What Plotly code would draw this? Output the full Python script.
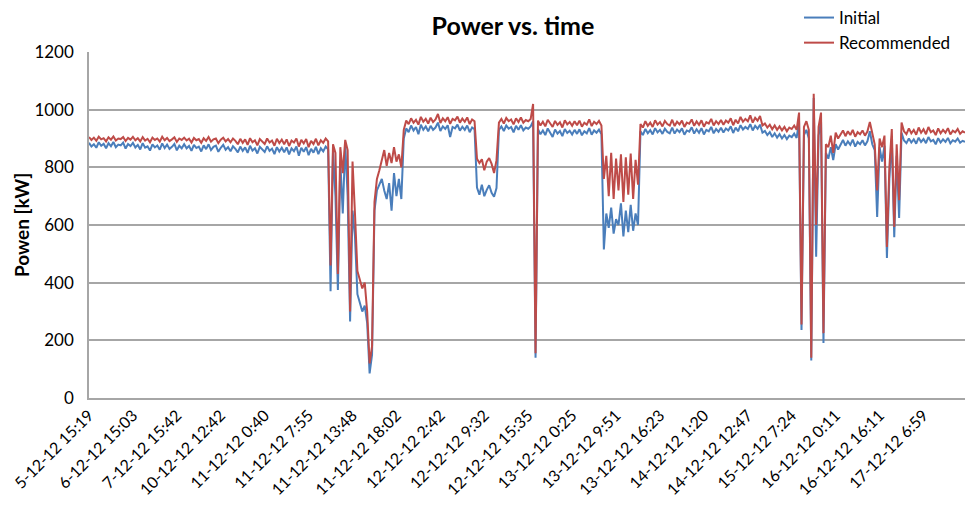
import plotly.graph_objects as go

# tick labels (one every 18 samples)
TIME_LABELS = ['5-12-12 15:19', '6-12-12 15:03', '7-12-12 15:42', '10-12-12 12:42', '11-12-12 0:40',
               '11-12-12 7:55', '11-12-12 13:48', '11-12-12 18:02', '12-12-12 2:42', '12-12-12 9:32',
               '12-12-12 15:35', '13-12-12 0:25', '13-12-12 9:51', '13-12-12 16:23', '14-12-12 1:20',
               '14-12-12 12:47', '15-12-12 7:24', '16-12-12 0:11', '16-12-12 16:11', '17-12-12 6:59']

# power [kW], initial settings
initial = [
    885, 872, 880, 868, 887, 875, 882, 866, 884, 873, 888, 870, 879, 876, 886, 865, 881, 874, 885, 869,
    878, 862, 884, 868, 873, 858, 880, 869, 876, 861, 883, 867, 879, 864, 871, 881, 859, 875, 866, 880,
    866, 874, 857, 878, 867, 872, 855, 876, 863, 880, 860, 871, 875, 854, 868, 878, 861, 870, 856, 873,
    864, 852, 872, 857, 869, 850, 875, 858, 866, 848, 871, 860, 853, 873, 857, 865, 846, 870, 855, 868,
    852, 869, 845, 866, 856, 872, 840, 868, 854, 870, 842, 864, 851, 871, 846, 866, 855, 872, 862, 370,
    860, 700, 375, 820, 640, 880, 700, 265, 650, 560, 360, 330, 300, 320, 260, 85, 150, 650, 720, 740,
    760, 720, 690, 745, 650, 780, 700, 760, 690, 900, 935, 922, 945, 928, 940, 915, 948, 930, 942, 925,
    944, 930, 938, 955, 926, 942, 933, 946, 905, 940, 935, 948, 927, 941, 930, 945, 922, 938, 932, 730,
    705, 740, 700, 722, 738, 712, 698, 728, 930, 942, 926, 945, 934, 940, 921, 944, 930, 946, 928, 938,
    934, 942, 960, 140, 932, 915, 928, 912, 935, 920, 905, 931, 917, 926, 908, 933, 919, 927, 914, 930,
    916, 932, 911, 925, 918, 936, 913, 928, 920, 931, 915, 515, 640, 590, 660, 570, 620, 600, 675, 560,
    650, 575, 670, 580, 640, 600, 925, 912, 933, 918, 929, 914, 936, 921, 930, 916, 934, 923, 918, 938,
    917, 931, 922, 935, 913, 928, 924, 939, 917, 932, 920, 936, 914, 930, 925, 940, 918, 933, 923, 937,
    921, 935, 928, 942, 919, 938, 925, 946, 931, 940, 933, 950, 928, 944, 934, 948, 920, 926, 912, 922,
    905, 918, 903, 915, 900, 912, 898, 910, 905, 917, 902, 960, 236, 912, 930, 900, 130, 1040, 490, 910,
    960, 191, 850, 830, 870, 825, 880, 862, 880, 895, 875, 890, 878, 896, 872, 888, 880, 894, 876, 890,
    925, 880, 860, 628, 870, 820, 875, 486, 760, 900, 558, 840, 624, 920, 893, 884, 900, 886, 897, 882,
    903, 888, 898, 884, 905, 890, 895, 880, 901, 886, 897, 888, 902, 883, 894, 889, 900, 885, 892, 888,
]

# power [kW], recommended settings
recommended = [
    905, 895, 903, 892, 906, 897, 901, 890, 904, 896, 907, 893, 900, 898, 905, 891, 902, 896, 906, 894,
    901, 890, 905, 893, 899, 887, 903, 895, 900, 889, 906, 894, 902, 891, 897, 904, 888, 900, 895, 903,
    893, 899, 886, 902, 894, 898, 885, 901, 892, 905, 889, 897, 900, 884, 896, 903, 890, 898, 887, 900,
    892, 880, 899, 885, 897, 878, 901, 887, 894, 876, 898, 889, 881, 900, 886, 893, 875, 899, 884, 896,
    880, 897, 874, 893, 886, 900, 872, 895, 883, 898, 870, 892, 881, 899, 876, 894, 885, 900, 890, 460,
    880, 850, 430, 870, 780, 895, 860, 300, 820, 640, 440, 410, 380, 400, 300, 120, 180, 680, 760, 790,
    830, 860, 805, 850, 815, 870, 820, 845, 800, 930, 962, 950, 970, 955, 965, 948, 975, 958, 968, 952,
    972, 957, 966, 985, 954, 970, 960, 974, 951, 968, 963, 976, 955, 969, 958, 973, 950, 966, 960, 830,
    815, 828, 790, 820, 832, 812, 780, 825, 955, 968, 952, 971, 960, 966, 949, 970, 957, 973, 955, 964,
    960, 968, 1020, 155, 962, 945, 958, 942, 965, 950, 940, 961, 947, 956, 938, 963, 949, 957, 944, 960,
    946, 962, 941, 955, 948, 966, 943, 958, 950, 961, 945, 760, 840, 700, 850, 690, 830, 720, 845, 680,
    835, 705, 848, 690, 826, 740, 950, 938, 960, 944, 955, 940, 963, 948, 957, 942, 961, 950, 945, 965,
    943, 958, 949, 962, 940, 955, 951, 966, 944, 959, 947, 963, 941, 957, 952, 968, 945, 960, 950, 964,
    948, 962, 955, 970, 946, 965, 952, 975, 958, 968, 960, 980, 955, 972, 962, 978, 945, 952, 938, 948,
    932, 945, 930, 942, 928, 940, 925, 938, 933, 945, 930, 990, 255, 940, 960, 930, 140, 1055, 600, 940,
    990, 225, 880, 870, 910, 850, 920, 900, 915, 928, 908, 925, 912, 930, 906, 922, 915, 928, 910, 924,
    957, 915, 880, 720, 900, 870, 910, 524, 800, 933, 593, 880, 686, 955, 925, 915, 935, 918, 930, 913,
    938, 920, 932, 915, 940, 922, 928, 912, 935, 918, 930, 920, 936, 914, 927, 921, 933, 916, 925, 920,
]

x = list(range(len(initial)))
tickvals = [i * 18 for i in range(len(TIME_LABELS))]

FONT = "Lato"
GRID = "#a6a6a6"

fig = go.Figure()
fig.add_trace(go.Scatter(x=x, y=initial, mode="lines", name="Initial",
                         line=dict(color="#4a7ebb", width=2)))
fig.add_trace(go.Scatter(x=x, y=recommended, mode="lines", name="Recommended",
                         line=dict(color="#be4b48", width=2)))

fig.update_layout(
    width=975, height=507,
    margin=dict(l=89, r=10, t=52, b=109, pad=0, autoexpand=False),
    plot_bgcolor="white", paper_bgcolor="white",
    font=dict(family=FONT, color="#000000"),
    title=dict(text="<b>Power vs. time</b>", xref="container", x=513 / 975, xanchor="center",
               yref="container", y=1 - 26 / 507, yanchor="middle", font=dict(size=25, family=FONT)),
    legend=dict(xref="container", yref="container", x=799 / 975, y=1.0,
                xanchor="left", yanchor="top",
                font=dict(size=17, family=FONT), bgcolor="rgba(0,0,0,0)", tracegroupgap=0),
    showlegend=True,
)
fig.update_yaxes(range=[0, 1200], dtick=200, showgrid=True, gridcolor=GRID, gridwidth=1.5,
                 showline=True, linecolor=GRID, linewidth=1.5, zeroline=False, automargin=False,
                 ticks="", tickfont=dict(size=17, family=FONT), ticklabelstandoff=10,
                 title=dict(text="<b>Powen [kW]</b>", font=dict(size=19, family=FONT), standoff=0))
fig.update_xaxes(range=[0, len(initial) - 1], showgrid=False, showline=True, linecolor=GRID,
                 linewidth=1.5, zeroline=False, automargin=False, ticks="", tickmode="array",
                 tickvals=tickvals, ticktext=TIME_LABELS, tickangle=-45,
                 tickfont=dict(size=16, family=FONT))

# drop the browser's default body margin so the figure sits at the page origin
fig.write_html("out.html", config={"displayModeBar": False},
               post_script="document.body.style.margin = '0';")
